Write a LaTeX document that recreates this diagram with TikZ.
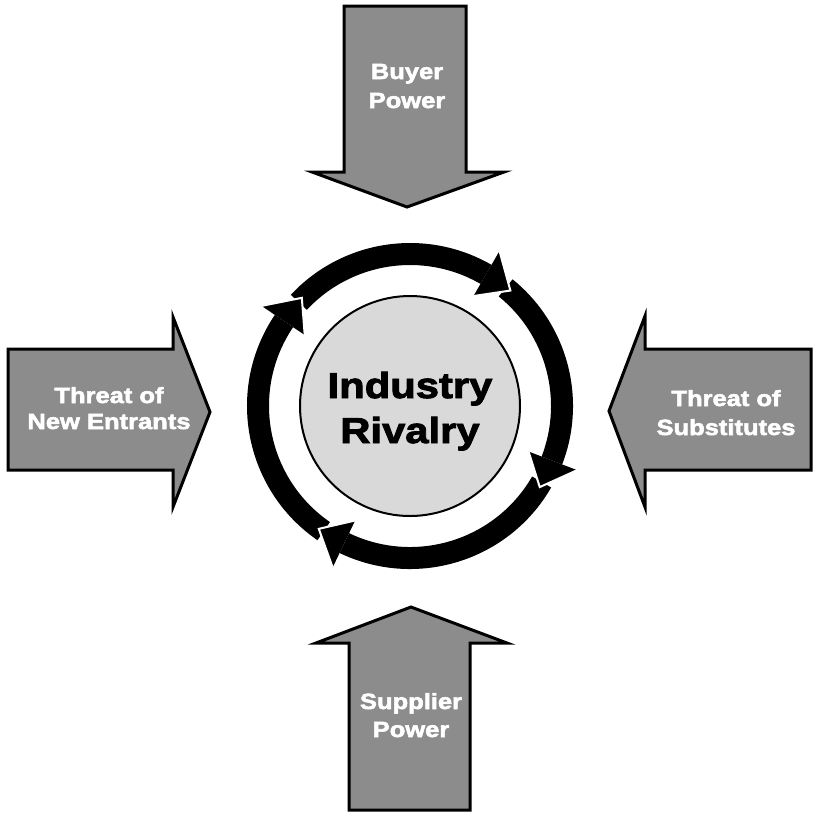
\documentclass[tikz,border=0pt]{standalone}
\usepackage{fontspec}
\setmainfont{Liberation Sans}
\newfontfamily\blk{Liberation Sans}[FakeStretch=1.16,FakeBold=2.5]
\definecolor{arrowgray}{RGB}{140,140,140}
\definecolor{coregray}{RGB}{217,217,217}
\begin{document}
\begin{tikzpicture}[x=1pt,y=1pt,
  force/.style={fill=arrowgray, draw=black, line width=3pt, line join=miter},
  forcetext/.style={text=white, font=\blk\bfseries\fontsize{22}{26}\selectfont, anchor=base, inner sep=0pt},
  coretext/.style={text=black, font=\blk\bfseries\fontsize{36}{42}\selectfont, anchor=base, inner sep=0pt},
  shaft/.style={fill=black},
  head/.style={fill=black},
  gap/.style={draw=white, line width=2pt}]
\useasboundingbox (0,0) rectangle (821,-820);

% ---- four forces ----
\draw[force] (344,-6) -- (466,-6) -- (466,-172) -- (504,-172) -- (407,-207) -- (312,-172) -- (344,-172) -- cycle;
\draw[force] (349,-810) -- (470,-810) -- (470,-643) -- (507,-643) -- (411,-607) -- (316,-643) -- (349,-643) -- cycle;
\draw[force] (8,-349) -- (173,-349) -- (173,-317) -- (210,-412) -- (173,-507) -- (173,-470) -- (8,-470) -- cycle;
\draw[force] (811,-349) -- (645,-349) -- (645,-316) -- (609,-411) -- (645,-507) -- (645,-470) -- (811,-470) -- cycle;

\node[forcetext] (buyerA) at (407,-79) {Buyer};
\node[forcetext] (buyerB) at (407,-108) {Power};
\node[forcetext] (supA) at (411,-709) {Supplier};
\node[forcetext] (supB) at (411,-737) {Power};
\node[forcetext] (newA) at (109,-403) {Threat of};
\node[forcetext] (newB) at (109,-429) {New Entrants};
\node[forcetext] (subA) at (726,-406) {Threat of};
\node[forcetext] (subB) at (726,-435) {Substitutes};

% ---- rivalry cycle ----
\begin{scope}[shift={(410,-406)}]
  \node[circle, draw=black, line width=2pt, fill=coregray, minimum size=220pt, inner sep=0pt] (core) at (0,0) {};
  \foreach \s/\b in {137/60, 51/-21, -30/-115.6, 235.4/146}{
    \fill[shaft] (\s:163) arc[start angle=\s, end angle=\b, radius=163] -- (\b:141) arc[start angle=\b, end angle=\s, radius=141] -- cycle;
  }
  \foreach \t in {49,-32,-126.6,135}{
    \pgfmathsetmacro{\bb}{\t+11}
    \fill[head] (\bb:127) -- (\t:153) -- (\bb:179) -- cycle;
    \draw[gap] (\bb:127) -- (\t:153) -- (\bb:179);
  }
\end{scope}
\node[coretext] (indA) at (410,-398) {Industry};
\node[coretext] (indB) at (410,-443) {Rivalry};
\end{tikzpicture}
\end{document}
